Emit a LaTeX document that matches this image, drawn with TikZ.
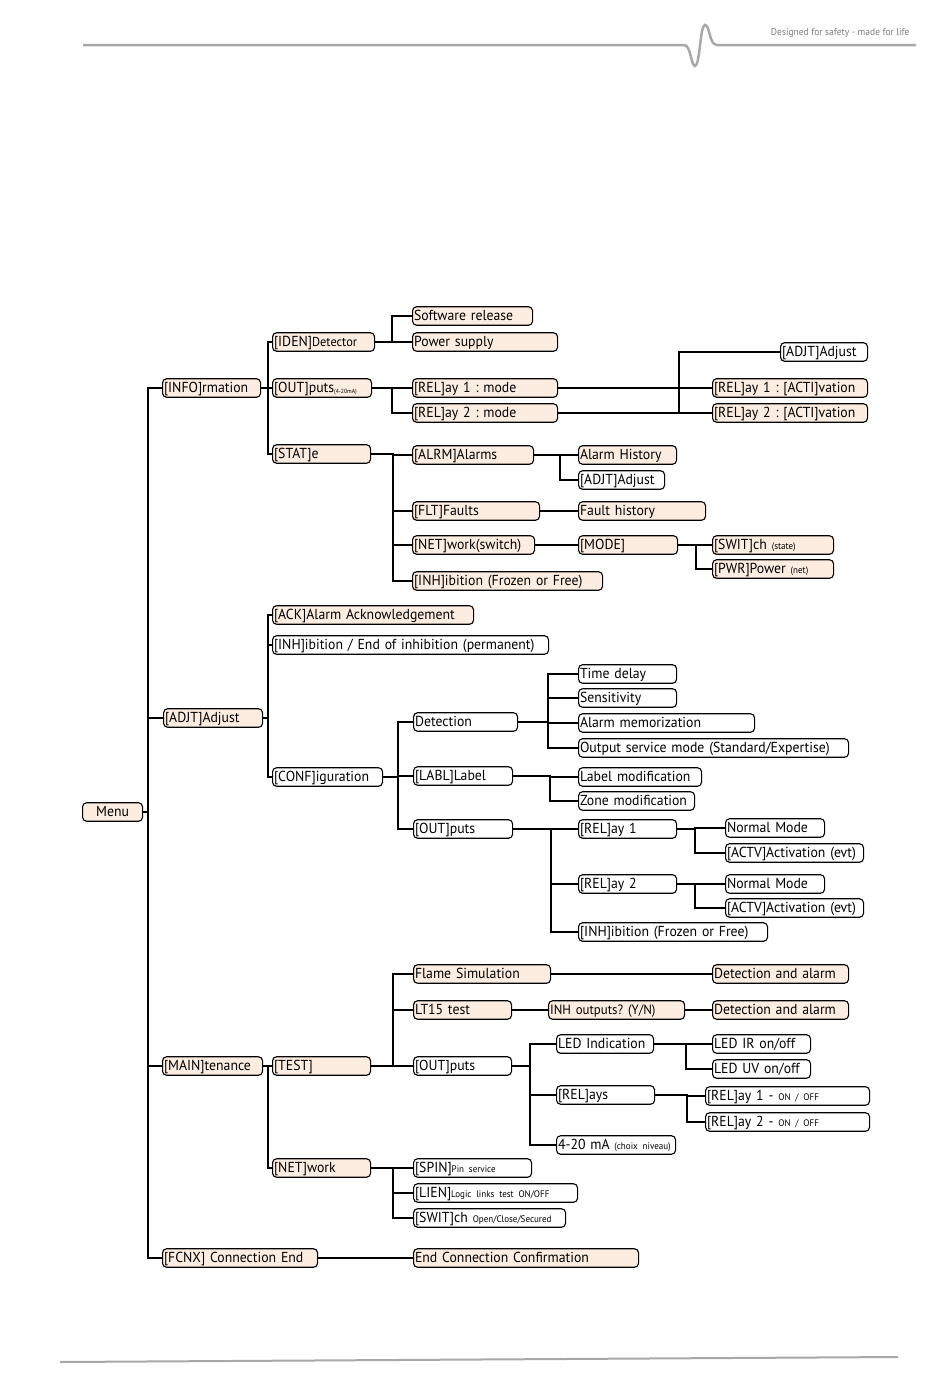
\documentclass[tikz,border=0pt]{standalone}
\usepackage{fontspec}
\setmainfont{PT Sans}[FakeStretch=0.95]
\usepackage{tikz}
\usetikzlibrary{positioning}
\definecolor{peach}{RGB}{253, 237, 225}
\definecolor{headgray}{RGB}{168, 168, 168}
\definecolor{taggray}{RGB}{125, 125, 125}
\newcommand{\tinytag}[1]{{\fontsize{9.5}{10}\selectfont #1}}
\frenchspacing

\begin{document}
\begin{tikzpicture}[
  x=1pt, y=-1pt,
  mbox/.style={draw, line width=1.1pt, rounded corners=4pt, anchor=west,
    inner xsep=1.5pt, inner ysep=0pt, minimum height=18.5pt,
    text width=#1pt, align=left, text height=10pt, text depth=1pt,
    font=\fontsize{14.5}{15}\selectfont,
    execute at begin node={\hbox\bgroup}, execute at end node={\egroup}},
  pbox/.style={mbox=#1, fill=peach},
  wbox/.style={mbox=#1, fill=white},
  link/.style={line width=1.3pt}
]
  \useasboundingbox (0,0) rectangle (950,1379);

  % header and footer
  \draw[headgray, line width=2.5pt] (83,45) -- (684,45)
    .. controls (691,45) and (691,66) .. (695,66)
    .. controls (700,66) and (700,25) .. (705,25)
    .. controls (710,25) and (709,45) .. (717,45) -- (916,45);
  \node[anchor=east, text=taggray, font=\fontsize{10}{11}\selectfont] (tagline) at (913,33) {Designed for safety - made for life};
  \draw[headgray, line width=2pt] (60,1362) -- (898,1357);

  % level 0 and 1
  \node[pbox=57] (menu) at (82,812) {\makebox[57pt]{Menu}};
  \node[pbox=95] (info) at (162,388) {[INFO]rmation};
  \node[pbox=96] (adjt) at (163,718) {[ADJT]Adjust};
  \node[pbox=97] (main) at (162,1066) {[MAIN]tenance};
  \node[pbox=152] (fcnx) at (162,1258) {[FCNX] Connection End};

  % information
  \node[pbox=99] (iden) at (272,342) {[IDEN]{\fontsize{13}{14}\selectfont Detector}};
  \node[pbox=96] (outma) at (272,388) {[OUT]puts\raisebox{-1pt}{\fontsize{6}{7}\selectfont(4-20mA)}};
  \node[pbox=95] (stat) at (272,454) {[STAT]e};
  \node[pbox=117] (swrel) at (412,316) {Software release};
  \node[pbox=142] (pwsup) at (412,342) {Power supply};
  \node[pbox=142] (relm1) at (412,388) {[REL]ay 1 : mode};
  \node[pbox=142] (relm2) at (412,413) {[REL]ay 2 : mode};
  \node[wbox=84] (adjtr) at (780,352) {[ADJT]Adjust};
  \node[pbox=152] (rela1) at (712,388) {[REL]ay 1 : [ACTI]vation};
  \node[pbox=152] (rela2) at (712,413) {[REL]ay 2 : [ACTI]vation};
  \node[pbox=118] (alrm) at (412,455) {[ALRM]Alarms};
  \node[pbox=124] (flt) at (412,511) {[FLT]Faults};
  \node[pbox=119] (netsw) at (412,545) {[NET]work(switch)};
  \node[pbox=187] (inhst) at (412,581) {[INH]ibition (Frozen or Free)};
  \node[pbox=95] (almhist) at (578,455) {Alarm History};
  \node[wbox=83] (almadj) at (578,480) {[ADJT]Adjust};
  \node[pbox=124] (flthist) at (578,511) {Fault history};
  \node[pbox=96] (mode) at (578,545) {[MODE]};
  \node[pbox=118] (swit) at (712,545) {[SWIT]ch \tinytag{(state)}};
  \node[pbox=118] (pwr) at (712,569) {[PWR]Power \tinytag{(net)}};

  % adjust
  \node[pbox=198] (ack) at (272,615) {[ACK]Alarm Acknowledgement};
  \node[wbox=273] (inhend) at (272,645) {[INH]ibition / End of inhibition (permanent)};
  \node[wbox=107] (conf) at (272,777) {[CONF]iguration};
  \node[wbox=101] (detect) at (413,722) {Detection};
  \node[wbox=96] (labl) at (413,776) {[LABL]Label};
  \node[wbox=96] (outcfg) at (413,829) {[OUT]puts};
  \node[wbox=95] (tdelay) at (578,674) {Time delay};
  \node[wbox=95] (sens) at (578,698) {Sensitivity};
  \node[wbox=173] (almmem) at (578,723) {Alarm memorization};
  \node[wbox=267] (outsvc) at (578,748) {Output service mode (Standard/Expertise)};
  \node[wbox=120] (lblmod) at (578,777) {Label modification};
  \node[wbox=113] (zonemod) at (578,801) {Zone modification};
  \node[wbox=95] (rel1) at (578,829) {[REL]ay 1};
  \node[wbox=95] (rel2) at (578,884) {[REL]ay 2};
  \node[wbox=186] (inhcfg) at (578,932) {[INH]ibition (Frozen or Free)};
  \node[wbox=96] (nm1) at (725,828) {Normal Mode};
  \node[wbox=135] (actv1) at (725,853) {[ACTV]Activation (evt)};
  \node[wbox=96] (nm2) at (725,884) {Normal Mode};
  \node[wbox=135] (actv2) at (725,908) {[ACTV]Activation (evt)};

  % maintenance
  \node[pbox=95] (test) at (272,1066) {[TEST]};
  \node[pbox=95] (netwk) at (272,1168) {[NET]work};
  \node[pbox=134] (flame) at (413,974) {Flame Simulation};
  \node[pbox=95] (lt15) at (413,1010) {LT15 test};
  \node[wbox=95] (outtst) at (413,1066) {[OUT]puts};
  \node[pbox=133] (da1) at (712,974) {Detection and alarm};
  \node[pbox=133] (inhout) at (548,1010) {\fontsize{13.5}{14}\selectfont INH outputs? (Y/N)};
  \node[pbox=133] (da2) at (712,1010) {Detection and alarm};
  \node[wbox=94] (ledind) at (556,1044) {LED Indication};
  \node[wbox=95] (relays) at (556,1095) {[REL]ays};
  \node[wbox=116] (ma) at (556,1145) {4-20 mA \tinytag{(choix niveau)}};
  \node[wbox=95] (ledir) at (712,1044) {LED IR on/off};
  \node[wbox=95] (leduv) at (712,1069) {LED UV on/off};
  \node[wbox=161] (relon1) at (705,1096) {[REL]ay 1 - \tinytag{ON / OFF}};
  \node[wbox=161] (relon2) at (705,1122) {[REL]ay 2 - \tinytag{ON / OFF}};
  \node[wbox=115] (spin) at (413,1168) {[SPIN]\tinytag{Pin service}};
  \node[wbox=161] (lien) at (413,1193) {[LIEN]\tinytag{Logic links test ON/OFF}};
  \node[wbox=149] (switnet) at (413,1218) {[SWIT]ch \tinytag{Open/Close/Secured}};
  \node[pbox=222] (endconf) at (413,1258) {End Connection Confirmation};

  % connectors
  \foreach \c in {info,adjt,main,fcnx}
    \draw[link] (menu.east) -- ++(5,0) |- (\c.west);
  \foreach \c in {iden,outma,stat}
    \draw[link] (info.east) -- ++(7,0) |- (\c.west);
  \foreach \c in {swrel,pwsup}
    \draw[link] (iden.east) -- ++(17,0) |- (\c.west);
  \foreach \c in {relm1,relm2}
    \draw[link] (outma.east) -- ++(20,0) |- (\c.west);
  \foreach \c in {adjtr,rela1,rela2}
    \draw[link] (relm1.east) -- ++(121,0) |- (\c.west);
  \draw[link] (relm2.east) -- (rela2.west);
  \foreach \c in {alrm,flt,netsw,inhst}
    \draw[link] (stat.east) -- ++(22,0) |- (\c.west);
  \foreach \c in {almhist,almadj}
    \draw[link] (alrm.east) -- ++(26,0) |- (\c.west);
  \draw[link] (flt.east) -- (flthist.west);
  \draw[link] (netsw.east) -- (mode.west);
  \foreach \c in {swit,pwr}
    \draw[link] (mode.east) -- ++(18,0) |- (\c.west);

  \foreach \c in {ack,inhend,conf}
    \draw[link] (adjt.east) -- ++(5,0) |- (\c.west);
  \foreach \c in {detect,labl,outcfg}
    \draw[link] (conf.east) -- ++(15,0) |- (\c.west);
  \foreach \c in {tdelay,sens,almmem,outsvc}
    \draw[link] (detect.east) -- ++(30,0) |- (\c.west);
  \foreach \c in {lblmod,zonemod}
    \draw[link] (labl.east) -- ++(37,0) |- (\c.west);
  \foreach \c in {rel1,rel2,inhcfg}
    \draw[link] (outcfg.east) -- ++(38,0) |- (\c.west);
  \foreach \c in {nm1,actv1}
    \draw[link] (rel1.east) -- ++(18,0) |- (\c.west);
  \foreach \c in {nm2,actv2}
    \draw[link] (rel2.east) -- ++(18,0) |- (\c.west);

  \foreach \c in {test,netwk}
    \draw[link] (main.east) -- ++(5,0) |- (\c.west);
  \foreach \c in {flame,lt15,outtst}
    \draw[link] (test.east) -- ++(22,0) |- (\c.west);
  \draw[link] (flame.east) -- (da1.west);
  \draw[link] (lt15.east) -- (inhout.west);
  \draw[link] (inhout.east) -- (da2.west);
  \foreach \c in {ledind,relays,ma}
    \draw[link] (outtst.east) -- ++(18,0) |- (\c.west);
  \foreach \c in {ledir,leduv}
    \draw[link] (ledind.east) -- ++(32,0) |- (\c.west);
  \foreach \c in {relon1,relon2}
    \draw[link] (relays.east) -- ++(32,0) |- (\c.west);
  \foreach \c in {spin,lien,switnet}
    \draw[link] (netwk.east) -- ++(22,0) |- (\c.west);
  \draw[link] (fcnx.east) -- (endconf.west);
\end{tikzpicture}
\end{document}
